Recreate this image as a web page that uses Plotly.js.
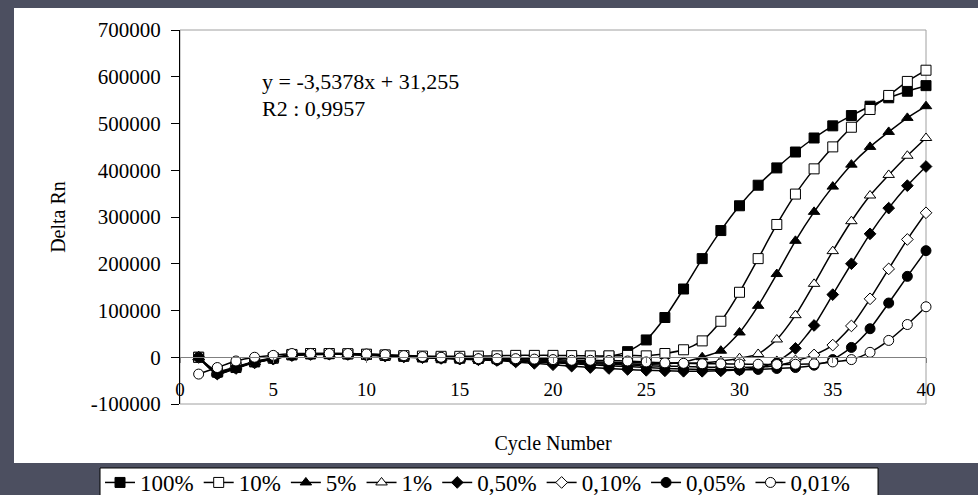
<!DOCTYPE html>
<html>
<head>
<meta charset="utf-8">
<script src="https://cdn.plot.ly/plotly-3.0.1.min.js"></script>
<style>
  html, body { margin: 0; padding: 0; }
  body { width: 978px; height: 495px; overflow: hidden; background: #4c4f60; position: relative; }
  #panel { position: absolute; left: 14px; top: 8px; width: 964px; height: 455px; background: #ffffff; }
  #chart { position: absolute; left: 0; top: 0; width: 978px; height: 495px; }
</style>
</head>
<body>
<div id="panel"></div>
<div id="chart"></div>
<script>
// Cycle numbers
const cycles = [1,2,3,4,5,6,7,8,9,10,11,12,13,14,15,16,17,18,19,20,21,22,23,24,25,26,27,28,29,30,31,32,33,34,35,36,37,38,39,40];

// Delta Rn per dilution
const s100 = [0,-32000,-22000,-10000,-2000,5000,7000,7500,7000,6000,4000,2000,500,-1000,-2000,-2500,-3000,-3000,-3000,-3000,-2500,-1500,2000,12000,37000,85000,146000,211000,271000,324000,368000,405000,439000,469000,495000,517000,537000,555000,569000,581000];
const s10 = [0,-30000,-20000,-9000,-1000,6000,8000,8000,7500,6500,5000,3500,2500,2000,2000,2500,3000,4000,4000,4000,3500,3000,3000,4000,3000,8000,16000,35000,77000,139000,211000,284000,349000,403000,450000,492000,530000,560000,590000,614000];
const s5 = [0,-35000,-22000,-11000,-3000,4500,6500,7000,6500,5000,3500,1500,0,-1500,-3000,-4000,-5000,-6500,-8000,-9500,-11000,-12000,-13000,-14000,-15000,-14000,-10000,0,14000,53000,110000,178000,249000,311000,365000,412000,450000,482000,512000,537000];
const s1 = [0,-33000,-21000,-10000,-2500,4500,6500,7000,6500,5000,3500,1500,0,-1000,-2500,-3500,-4500,-5500,-6500,-7500,-8500,-9500,-10500,-11500,-12500,-13000,-13000,-12000,-8000,-2000,7000,38000,90000,157000,227000,291000,346000,390000,431000,469000];
const s050 = [0,-36000,-24000,-12000,-4000,3500,6000,6500,6000,4500,2500,500,-1000,-2500,-4000,-5500,-7000,-10000,-13000,-16000,-19000,-22000,-24000,-26000,-28000,-29000,-30000,-30000,-29000,-27000,-22000,-10000,19000,68000,134000,200000,264000,319000,367000,408000];
const s010 = [0,-34000,-22000,-11000,-3000,4500,6500,7000,6500,5000,3500,1500,0,-1500,-3000,-4000,-5000,-6500,-8000,-10000,-12000,-13500,-15000,-16500,-18000,-19000,-20000,-21000,-21500,-22000,-21000,-18000,-8000,5000,26000,67000,125000,189000,252000,309000];
const s005 = [0,-35000,-23000,-11000,-3500,4000,6000,6500,6000,4500,3000,1000,-500,-2000,-3500,-5000,-6500,-8000,-10000,-12000,-14000,-16000,-18000,-20000,-22000,-24000,-25000,-26000,-26500,-27000,-26000,-24000,-22000,-17000,-5000,21000,61000,116000,173000,228000];
const s001 = [-36000,-22000,-8000,0,4000,8000,8000,8000,8000,7000,5500,3500,1500,0,-1500,-3000,-3000,-3000,-4000,-5000,-6500,-6500,-7000,-8000,-10000,-12000,-13000,-14000,-14000,-14500,-15000,-15500,-15000,-14000,-10000,-5000,10500,36000,70000,108000];

const seriesNames = ['100%','10%','5%','1%','0,50%','0,10%','0,05%','0,01%'];
const seriesValues = [s100, s10, s5, s1, s050, s010, s005, s001];

// Axis ticks
const xTickVals = [0,5,10,15,20,25,30,35,40];
const yTickVals = [-100000,0,100000,200000,300000,400000,500000,600000,700000];
const yTickText = ['-100000','0','100000','200000','300000','400000','500000','600000','700000'];

const fitLine1 = 'y = -3,5378x + 31,255';
const fitLine2 = 'R2 : 0,9957';

// marker styles
const styles = [
  {symbol:'square', size:10, fill:'#000000'},
  {symbol:'square', size:10, fill:'#ffffff'},
  {symbol:'triangle-up', size:10, fill:'#000000'},
  {symbol:'triangle-up', size:10, fill:'#ffffff'},
  {symbol:'diamond', size:9, fill:'#000000'},
  {symbol:'diamond', size:9, fill:'#ffffff'},
  {symbol:'circle', size:10, fill:'#000000'},
  {symbol:'circle', size:10, fill:'#ffffff'}
];

const serif = 'Liberation Serif, Times New Roman, serif';

const traces = seriesNames.map((name, i) => ({
  type: 'scatter',
  mode: 'lines+markers',
  name: name,
  x: cycles,
  y: seriesValues[i],
  cliponaxis: false,
  line: {color: '#000000', width: 1.5, shape: 'spline', smoothing: 0.6},
  marker: {symbol: styles[i].symbol, size: styles[i].size, color: styles[i].fill,
           line: {color: '#000000', width: 1}},
  hoverinfo: 'skip'
}));

const layout = {
  width: 978, height: 495,
  margin: {l: 180, r: 52, t: 30, b: 91, pad: 0, autoexpand: false},
  paper_bgcolor: 'rgba(0,0,0,0)',
  plot_bgcolor: 'rgba(0,0,0,0)',
  font: {family: serif, color: '#000000'},
  showlegend: true,
  legend: {
    orientation: 'h', x: -0.1072, xanchor: 'left', y: -0.1524, yanchor: 'top',
    bgcolor: 'rgba(0,0,0,0)', borderwidth: 0,
    font: {family: serif, size: 23, color: '#000000'},
    traceorder: 'normal'
  },
  xaxis: {
    range: [0, 40], anchor: 'free', position: 0.125,
    tickvals: xTickVals,
    showline: true, linecolor: '#808080', linewidth: 1,
    ticks: 'outside', ticklen: 5, tickcolor: '#808080',
    showgrid: false, zeroline: false, automargin: false,
    tickfont: {family: serif, size: 19, color: '#000000'},
    ticklabelstandoff: 10,
    title: {text: 'Cycle Number', font: {family: serif, size: 20, color: '#000000'}, standoff: 36}
  },
  yaxis: {
    range: [-100000, 700000],
    tickvals: yTickVals, ticktext: yTickText,
    showline: true, linecolor: '#000000', linewidth: 1,
    ticks: 'outside', ticklen: 8, tickcolor: '#000000',
    showgrid: false, zeroline: false, automargin: false,
    tickfont: {family: serif, size: 21, color: '#000000'},
    ticklabelstandoff: 6,
    title: {text: 'Delta Rn', font: {family: serif, size: 20, color: '#000000'}, standoff: 19}
  },
  shapes: [
    {type: 'rect', xref: 'paper', yref: 'paper', x0: 0, x1: 1, y0: 0, y1: 1,
     line: {color: '#a0a0a0', width: 1}, fillcolor: 'rgba(0,0,0,0)', layer: 'below'},
    // legend box
    {type: 'rect', xref: 'paper', yref: 'paper', x0: -0.1072, x1: 0.9357, y0: -0.2514, y1: -0.1711,
     line: {color: '#000000', width: 1}, fillcolor: '#ffffff', layer: 'above'}
  ],
  annotations: [
    {text: fitLine1, xref: 'paper', yref: 'paper', x: 0.107, y: 0.8636, xanchor: 'left', yanchor: 'middle',
     showarrow: false, font: {family: serif, size: 22, color: '#000000'}},
    {text: fitLine2, xref: 'paper', yref: 'paper', x: 0.107, y: 0.7914, xanchor: 'left', yanchor: 'middle',
     showarrow: false, font: {family: serif, size: 22, color: '#000000'}}
  ]
};

Plotly.newPlot('chart', traces, layout, {displayModeBar: false, staticPlot: true});
</script>
</body>
</html>
